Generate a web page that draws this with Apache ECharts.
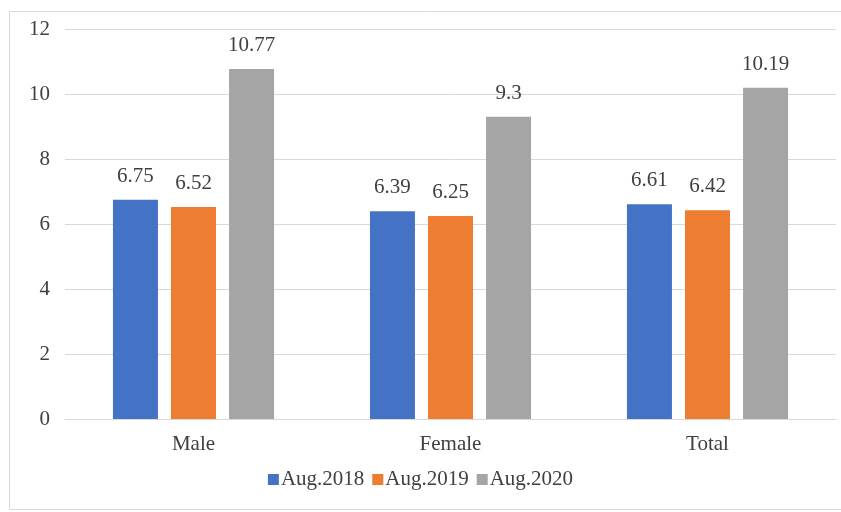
<!DOCTYPE html>
<html><head><meta charset="utf-8">
<script src="https://cdn.jsdelivr.net/npm/echarts@6/dist/echarts.min.js"></script>
<style>html,body{margin:0;padding:0;background:#fff}#c{width:841px;height:512px}</style>
</head><body><div id="c"></div>
<script>
const categories = ['Male', 'Female', 'Total'];
const seriesNames = ['Aug.2018', 'Aug.2019', 'Aug.2020'];
const aug2018 = [6.75, 6.39, 6.61];
const aug2019 = [6.52, 6.25, 6.42];
const aug2020 = [10.77, 9.3, 10.19];
const colors = ['#4472C4', '#ED7D31', '#A5A5A5'];
const font = '"Liberation Serif", "Times New Roman", serif';
const chart = echarts.init(document.getElementById('c'));
const mk = (name, data, color) => ({
  name, type: 'bar', data, barWidth: 45, barGap: '29%',
  itemStyle: { color },
  label: { show: true, position: 'top', distance: 13, fontFamily: font, fontSize: 21, color: '#404040' }
});
chart.setOption({
  animation: false,
  textStyle: { fontFamily: font },
  graphic: [{ type: 'rect', shape: { x: 9.5, y: 11.5, width: 840, height: 498 }, style: { fill: 'none', stroke: '#d9d9d9', lineWidth: 1 }, silent: true }],
  grid: { left: 65, right: 5, top: 29, bottom: 93, containLabel: false },
  legend: { bottom: 17, left: 'center', itemWidth: 11, itemHeight: 11, itemGap: 8, icon: 'rect',
    textStyle: { fontFamily: font, fontSize: 21, color: '#404040', padding: [0, 0, 0, -3] } },
  xAxis: { type: 'category', data: categories,
    axisLine: { lineStyle: { color: '#d9d9d9', width: 1 } }, axisTick: { show: false },
    axisLabel: { fontFamily: font, fontSize: 21, color: '#404040', margin: 15 } },
  yAxis: { type: 'value', min: 0, max: 12, interval: 2,
    axisLine: { show: false }, axisTick: { show: false },
    splitLine: { lineStyle: { color: '#d9d9d9', width: 1 } },
    axisLabel: { fontFamily: font, fontSize: 21, color: '#404040', margin: 15 } },
  series: [mk(seriesNames[0], aug2018, colors[0]), mk(seriesNames[1], aug2019, colors[1]), mk(seriesNames[2], aug2020, colors[2])]
});
</script></body></html>
